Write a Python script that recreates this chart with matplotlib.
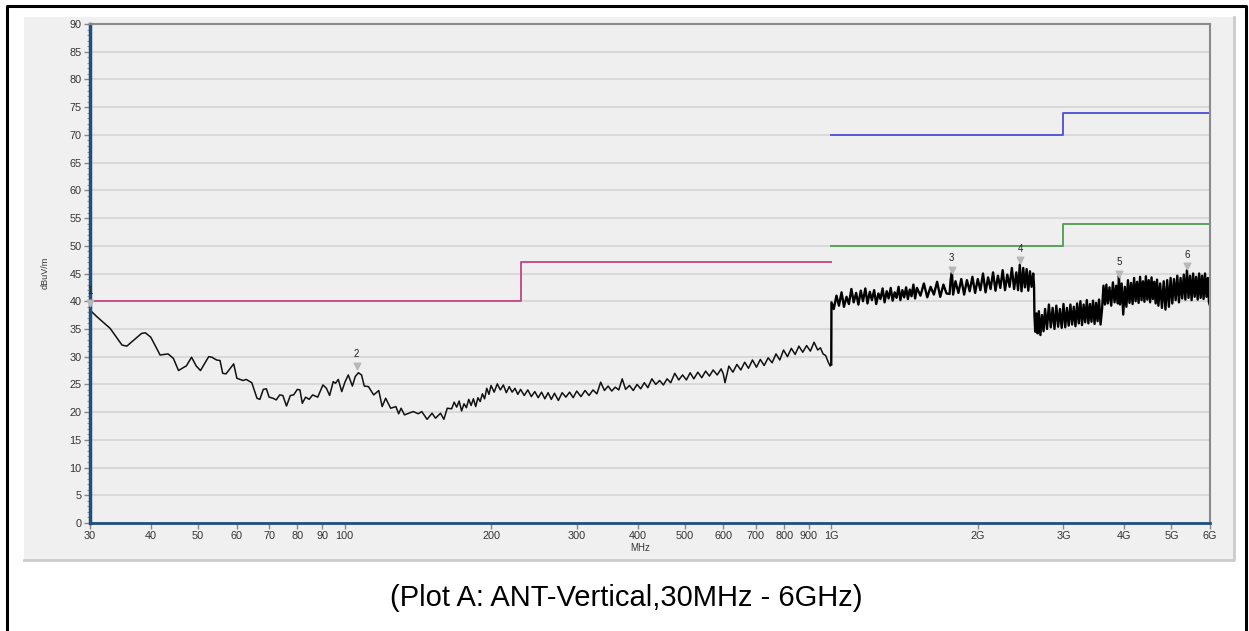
import matplotlib
matplotlib.use('Agg')
import matplotlib.pyplot as plt
from matplotlib.lines import Line2D
from matplotlib.patches import Rectangle
from matplotlib.ticker import FixedLocator, FixedFormatter, MultipleLocator, NullFormatter

# measured trace 30 MHz - 1 GHz (MHz, dBuV/m)
freq_low = [30.0, 31.0, 33.0, 34.9, 35.7, 38.3, 39.0, 40.0, 41.8, 43.4, 44.5, 45.6, 47.0, 47.3, 48.5,
            49.6, 50.6, 52.6, 53.4, 54.6, 55.5, 56.2, 57.1, 59.2, 60.1, 61.9, 62.8, 64.5, 66.1, 67.0,
            68.1, 69.1, 70.0, 71.3, 72.4, 73.6, 74.7, 76.0, 77.4, 78.6, 80.0, 81.0, 81.9, 83.2, 84.6,
            86.0, 88.1, 90.3, 91.8, 93.2, 94.8, 95.8, 97.1, 98.7, 100.2, 101.8, 103.8, 105.2, 106.8,
            108.4, 109.8, 112.0, 114.8, 117.6, 119.5, 121.5, 124.4, 127.5, 129.2, 130.7, 132.8, 138.4,
            141.8, 144.1, 147.8, 151.3, 153.8, 157.5, 160.0, 162.6,
            166, 168, 170, 172, 174, 176, 178, 180, 182, 184, 186, 188, 190, 192, 194, 196, 198, 200,
            203, 206, 209, 212, 215, 218, 221, 224, 227, 230, 234, 238, 242, 246, 250, 254, 258, 262,
            266, 270, 275, 280, 285, 290, 295, 300, 306, 312, 318, 324, 330, 336, 342, 348, 354, 360,
            366, 372, 378, 385, 392, 399, 406, 413, 420, 428, 436, 444, 452, 460, 468, 477, 486, 495,
            504, 513, 522, 532, 542, 552, 562, 572, 583, 594, 600, 605, 616, 628, 640, 652, 664, 676,
            689, 702, 715, 728, 742, 756, 770, 784, 798, 813, 828, 843, 858, 874, 890, 906, 922, 938,
            950, 962, 974, 986, 995, 1000]
level_low = [38.4, 37.2, 35.1, 32.1, 31.9, 34.2, 34.3, 33.5, 30.3, 30.5, 29.7, 27.5, 28.2, 28.3, 29.9,
             28.3, 27.5, 30.0, 29.9, 29.4, 29.3, 27.0, 26.9, 28.7, 26.1, 25.7, 25.9, 25.3, 22.5, 22.3,
             24.1, 24.2, 22.7, 22.5, 22.2, 23.1, 23.0, 21.1, 23.0, 23.1, 24.1, 24.0, 21.6, 22.7, 22.3,
             23.1, 22.7, 24.9, 24.3, 23.0, 25.5, 25.2, 25.9, 23.7, 25.4, 26.7, 24.7, 26.4, 27.1,
             26.7, 24.7, 24.6, 23.1, 23.9, 21.0, 22.5, 20.7, 21.0, 19.7, 20.7, 19.5, 20.1,
             19.7, 20.1, 18.7, 19.8, 18.9, 19.8, 18.7, 20.7,
             20.6, 21.8, 20.9, 22.0, 20.2, 21.5, 20.8, 22.3, 21.2, 22.4, 21.0, 22.6, 21.9, 23.3, 22.4, 24.3, 23.2, 24.8,
             23.6, 25.1, 24.0, 24.9, 23.5, 24.6, 23.6, 24.3, 23.2, 24.1, 23.0, 24.0, 22.8, 23.7, 22.6, 23.6, 22.4, 23.5,
             22.3, 23.4, 22.1, 23.5, 22.7, 23.6, 22.6, 23.8, 22.8, 23.9, 23.0, 24.0, 23.3, 25.4, 23.9, 24.7, 23.8, 24.5,
             24.0, 26.0, 24.1, 24.8, 23.9, 25.0, 24.2, 25.3, 24.4, 26.0, 25.0, 25.7, 24.9, 26.0, 25.3, 27.0, 25.8, 26.7,
             25.8, 27.1, 26.0, 27.2, 26.2, 27.4, 26.5, 27.6, 26.7, 27.8, 26.9, 25.3, 28.3, 27.2, 28.6, 27.6, 29.0, 27.9,
             29.4, 28.1, 29.5, 28.4, 29.8, 28.9, 30.5, 29.4, 31.2, 30.0, 31.5, 30.4, 31.9, 30.8, 32.0, 31.0, 32.6, 31.2,
             31.6, 30.5, 30.2, 29.0, 28.3, 28.6]

# measured trace 1 GHz - 6 GHz
freq_high = [1000, 1001, 1012, 1025, 1037, 1050, 1062, 1075, 1087, 1100, 1112, 1125, 1137, 1150, 1162, 1175,
             1187, 1200, 1212, 1225, 1237, 1250, 1262, 1275, 1287, 1300, 1312, 1325, 1337, 1350, 1362,
             1375, 1387, 1400, 1412, 1425, 1437, 1450, 1462, 1475, 1487, 1500, 1525, 1550, 1575, 1600,
             1625, 1650, 1675, 1700, 1725, 1750, 1760, 1770, 1780, 1800, 1825, 1850, 1875, 1900, 1925,
             1950, 1975, 2000, 2025, 2050, 2075, 2100, 2125, 2150, 2175, 2200, 2225, 2250, 2275, 2300,
             2325, 2350, 2375, 2400, 2420, 2440, 2460, 2480, 2500, 2520, 2540, 2560, 2580, 2600, 2610,
             2615, 2625, 2640, 2655, 2670, 2690, 2710, 2730, 2750, 2775, 2800, 2825, 2850, 2875, 2900,
             2925, 2950, 2975, 3000, 3025, 3050, 3075, 3100, 3125, 3150, 3175, 3200, 3225, 3250, 3275,
             3300, 3325, 3350, 3375, 3400, 3425, 3450, 3475, 3500, 3525, 3550, 3575, 3600, 3625, 3650,
             3675, 3700, 3730, 3760, 3790, 3820, 3850, 3880, 3900, 3920, 3950, 3980, 4010, 4040, 4070,
             4100, 4130, 4160, 4190, 4220, 4250, 4280, 4310, 4340, 4370, 4400, 4430, 4460, 4490, 4520,
             4550, 4580, 4610, 4640, 4670, 4700, 4740, 4780, 4820, 4860, 4900, 4940, 4980, 5020, 5060,
             5100, 5140, 5180, 5220, 5260, 5300, 5340, 5380, 5420, 5460, 5500, 5540, 5580, 5620, 5660,
             5700, 5740, 5780, 5820, 5860, 5900, 5940, 5970, 6000]
level_high = [28.6, 39.8, 38.6, 41.0, 39.2, 41.6, 39.0, 40.8, 39.5, 42.2, 39.8, 41.5, 39.4, 41.9, 40.0, 42.3,
              39.6, 41.7, 40.2, 42.0, 39.5, 41.4, 40.4, 42.3, 39.8, 41.8, 40.5, 42.4, 40.1, 41.6, 40.6,
              42.6, 40.2, 42.0, 40.7, 42.5, 40.4, 42.1, 40.9, 43.0, 40.5, 42.4, 41.0, 43.2, 40.7, 42.6,
              41.2, 43.5, 40.8, 43.0, 41.4, 41.3, 44.0, 45.2, 41.2, 43.6, 41.5, 44.0, 41.2, 43.8, 41.8,
              44.4, 41.5, 44.0, 42.0, 45.0, 41.6, 44.3, 42.2, 45.2, 41.9, 44.6, 42.4, 45.6, 42.0, 44.8,
              42.6, 46.0, 42.2, 45.2, 42.0, 46.6, 41.8, 46.0, 42.5, 45.8, 41.9, 45.4, 42.6, 45.0, 42.8,
              37.5, 34.5, 37.8, 34.2, 38.2, 33.9, 37.5, 34.6, 38.6, 35.0, 39.4, 35.3, 38.8, 35.0, 39.2,
              35.4, 38.6, 35.2, 39.5, 35.3, 38.8, 35.6, 39.4, 35.8, 39.0, 35.5, 39.6, 36.0, 40.0, 35.7,
              39.4, 36.2, 40.2, 36.0, 39.5, 36.3, 40.1, 35.9, 39.7, 36.4, 40.3, 35.8, 38.5, 42.8, 39.4,
              43.0, 39.6, 42.5, 39.2, 43.4, 39.8, 42.8, 39.6, 44.6, 39.4, 43.2, 37.6, 42.6, 39.0, 43.8,
              39.7, 43.3, 39.5, 44.2, 40.0, 43.5, 39.7, 44.4, 40.2, 43.6, 39.9, 44.5, 40.3, 43.8, 39.8,
              44.3, 40.4, 43.5, 39.6, 43.9, 39.2, 43.2, 38.8, 43.6, 38.5, 43.8, 39.0, 44.2, 39.6, 44.0,
              40.2, 44.6, 39.8, 44.2, 40.5, 44.8, 40.3, 45.6, 40.6, 44.6, 40.2, 45.0, 40.8, 44.4, 40.3,
              45.0, 40.6, 44.6, 40.4, 45.0, 40.8, 44.2, 39.8, 39.2]

# limit lines
qp_freq = [30, 230, 230, 1000]
qp_level = [40, 40, 47, 47]
pk_freq = [1000, 3000, 3000, 6000]
pk_level = [70, 70, 74, 74]
av_freq = [1000, 3000, 3000, 6000]
av_level = [50, 50, 54, 54]

# peak markers
marker_names = ['1', '2', '3', '4', '5', '6']
marker_freq = [30, 105.9, 1769, 2443, 3904, 5392]
marker_level = [39.3, 27.9, 45.3, 47.0, 44.6, 45.9]

xtick_pos = [30, 40, 50, 60, 70, 80, 90, 100, 200, 300, 400, 500, 600, 700, 800, 900,
             1000, 2000, 3000, 4000, 5000, 6000]
xtick_labels = ['30', '40', '50', '60', '70', '80', '90', '100', '200', '300', '400', '500',
                '600', '700', '800', '900', '1G', '2G', '3G', '4G', '5G', '6G']

W, H = 1249, 631
plt.rcParams['font.family'] = ['Liberation Sans', 'DejaVu Sans']
fig = plt.figure(figsize=(W / 100, H / 100), dpi=100, facecolor='white')

# outer frame and grey panel (behind the axes)
fig.add_artist(Rectangle((24 / W, 1 - 560 / H), 1210 / W, 543 / H, transform=fig.transFigure,
                         facecolor='#f0f0f0', edgecolor='none', zorder=-10))
fig.add_artist(Line2D([24 / W, 1234 / W, 1234 / W], [1 - 560 / H, 1 - 560 / H, 1 - 17 / H],
                      transform=fig.transFigure, color='#cccccc', lw=2, zorder=-9))
fig.add_artist(Line2D([6.5 / W, 6.5 / W, 1246 / W, 1246 / W], [0, 1 - 5.5 / H, 1 - 5.5 / H, 0],
                      transform=fig.transFigure, color='black', lw=2.2, zorder=-9))

ax = fig.add_axes([90 / W, 1 - 523 / H, 1120 / W, 499 / H])
ax.set_facecolor('#efefef')
ax.set_xscale('log')
ax.set_xlim(30, 6000)
ax.set_ylim(0, 90)

ax.yaxis.set_major_locator(MultipleLocator(5))
ax.yaxis.set_minor_locator(MultipleLocator(1))
ax.grid(axis='y', which='major', color='#d9d9d9', lw=1.5)
ax.set_axisbelow(True)

ax.xaxis.set_major_locator(FixedLocator(xtick_pos))
ax.xaxis.set_major_formatter(FixedFormatter(xtick_labels))
ax.xaxis.set_minor_locator(FixedLocator([]))
ax.xaxis.set_minor_formatter(NullFormatter())

ax.tick_params(axis='both', which='major', labelsize=7.8, labelcolor='#333333', color='#888888',
               length=4, width=1, pad=2)
ax.tick_params(axis='y', which='minor', color='#8899aa', length=2.5, width=0.8)

for side in ['top', 'right']:
    ax.spines[side].set_color('#8a8a8a')
    ax.spines[side].set_linewidth(1.5)
ax.spines['left'].set_color('#1f4f80')
ax.spines['left'].set_linewidth(2.5)
ax.spines['bottom'].set_color('#1f4f80')
ax.spines['bottom'].set_linewidth(2)

ax.plot(qp_freq, qp_level, color='#c4508a', lw=1.4)
ax.plot(pk_freq, pk_level, color='#5858d8', lw=1.4)
ax.plot(av_freq, av_level, color='#5aa05a', lw=1.4)

ax.plot(freq_low, level_low, color='#111111', lw=1.1)
ax.plot(freq_high, level_high, color='black', lw=1.7)

ax.scatter(marker_freq, [v + 0.4 for v in marker_level], marker='v', s=22, color='#b8b8b8', zorder=5,
           clip_on=False)
for name, f, v in zip(marker_names, marker_freq, marker_level):
    ax.text(f, v + 1.6, name, ha='center', va='bottom', fontsize=7, color='#222222', clip_on=False)

fig.text(45 / W, 1 - 273 / H, 'dBuV/m', rotation=90, ha='center', va='center', fontsize=6.5,
         color='#333333')
fig.text(640 / W, 1 - 548 / H, 'MHz', ha='center', va='center', fontsize=7, color='#333333')
fig.text(626 / W, 1 - 598 / H, '(Plot A: ANT-Vertical,30MHz - 6GHz)', ha='center', va='center',
         fontsize=21, color='black')

fig.savefig('out.png', dpi=100, facecolor='white')
